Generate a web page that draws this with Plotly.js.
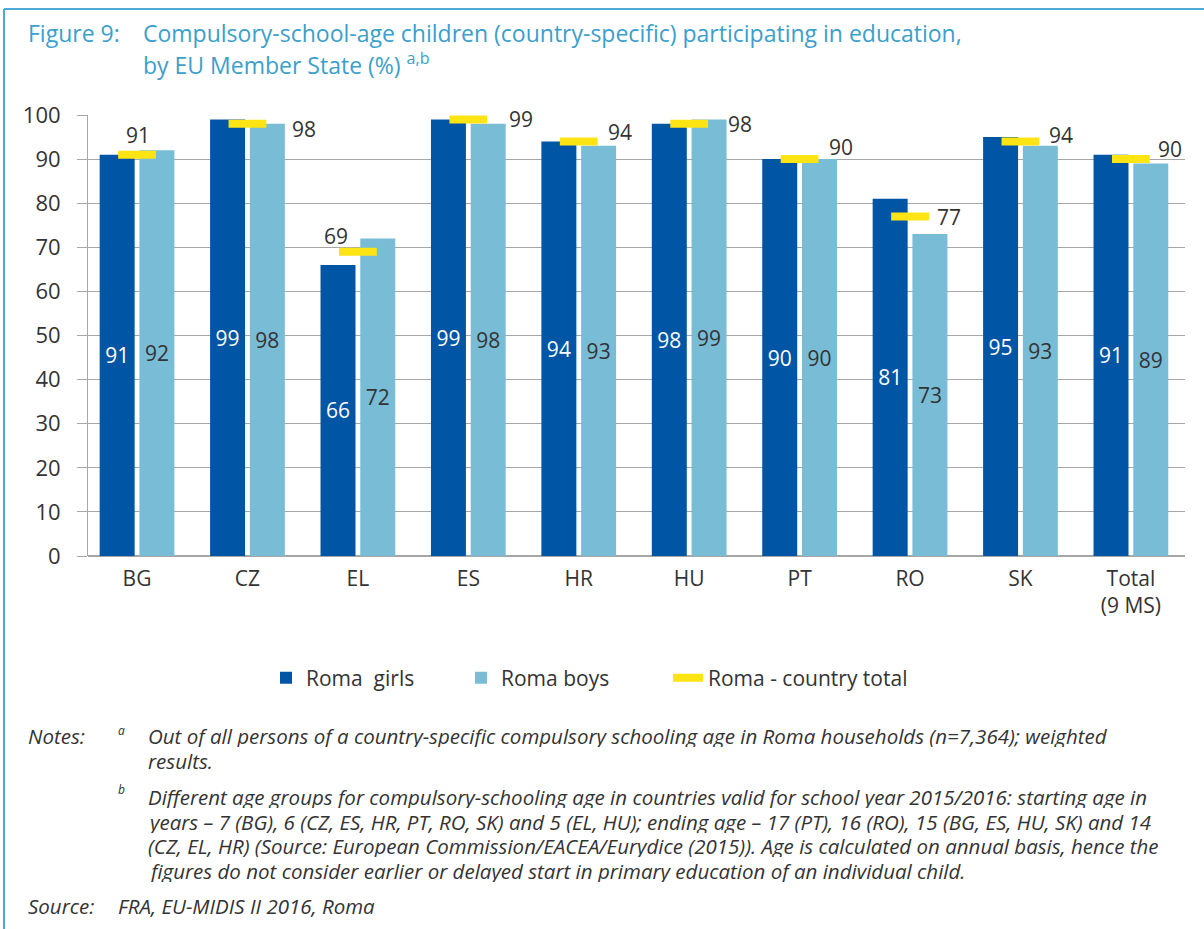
<!DOCTYPE html>
<html>
<head>
<meta charset="utf-8">
<script src="https://cdn.plot.ly/plotly-3.0.1.min.js"></script>
<style>
  html, body { margin: 0; padding: 0; background: #fff; }
  #chart { width: 1204px; height: 929px; }
</style>
</head>
<body>
<div id="chart"></div>
<script>
// Data
const countries = ['BG', 'CZ', 'EL', 'ES', 'HR', 'HU', 'PT', 'RO', 'SK', 'Total<br>(9 MS)'];
const girls = [91, 99, 66, 99, 94, 98, 90, 81, 95, 91];
const boys = [92, 98, 72, 98, 93, 99, 90, 73, 93, 89];
const countryTotal = [91, 98, 69, 99, 94, 98, 90, 77, 94, 90];

// where the "country total" labels sit relative to the yellow mark (px)
const totalLabelShift = [
  [1, 20], [57, -5], [-22, 16], [53, 0], [41, 9],
  [51, 0], [41, 12], [39, -1], [41, 6], [39, 10],
];

const noteA = [
  'Out of all persons of a country-specific compulsory schooling age in Roma households (n=7,364); weighted',
  'results.',
];
const noteB = [
  'Different age groups for compulsory-schooling age in countries valid for school year 2015/2016: starting age in',
  'years \u2013 7 (BG), 6 (CZ, ES, HR, PT, RO, SK) and 5 (EL, HU); ending age \u2013 17 (PT), 16 (RO), 15 (BG, ES, HU, SK) and 14',
  '(CZ, EL, HR) (Source: European Commission/EACEA/Eurydice (2015)). Age is calculated on annual basis, hence the',
  'figures do not consider earlier or delayed start in primary education of an individual child.',
];

const COLORS = {
  girls: '#0055a4',
  boys: '#78bcd6',
  total: '#ffe414',
  grid: '#a6a6a6',
  frame: '#4daad6',
  title: '#3a9fcb',
  text: '#333333',
};

const W = 1204, H = 929;
const M = { l: 88, r: 19, t: 115, b: 373 };
const plotW = W - M.l - M.r;
const plotH = H - M.t - M.b;
// pixel -> paper helpers for the surrounding text / frame
const px = x => (x - M.l) / plotW;
const py = y => (H - M.b - y) / plotH;

const xs = countries.map((_, i) => i);
const labelFont = { family: 'Open Sans, sans-serif', size: 21, color: COLORS.text };

const traces = [
  {
    type: 'bar', name: 'Roma  girls', x: xs, y: girls,
    marker: { color: COLORS.girls },
    text: girls.map(String), textposition: 'inside', insidetextanchor: 'middle',
    textangle: 0, constraintext: 'none',
    textfont: Object.assign({}, labelFont, { color: '#ffffff' }),
    hoverinfo: 'skip',
  },
  {
    type: 'bar', name: 'Roma boys', x: xs, y: boys,
    marker: { color: COLORS.boys },
    text: boys.map(String), textposition: 'inside', insidetextanchor: 'middle',
    textangle: 0, constraintext: 'none',
    textfont: labelFont,
    hoverinfo: 'skip',
  },
  {
    type: 'scatter', mode: 'markers', name: 'Roma - country total', x: xs, y: countryTotal,
    marker: { symbol: 'line-ew', size: 27, line: { color: COLORS.total, width: 8 } },
    showlegend: false, cliponaxis: false, hoverinfo: 'skip',
  },
  // legend entry for the yellow marks
  {
    type: 'scatter', mode: 'lines', name: 'Roma - country total', x: [null], y: [null],
    line: { color: COLORS.total, width: 8 }, hoverinfo: 'skip', legend: 'legend2',
  },
];

const annotations = countryTotal.map((v, i) => ({
  x: i, y: v, xref: 'x', yref: 'y', text: String(v), showarrow: false,
  xanchor: 'center', yanchor: 'middle',
  xshift: totalLabelShift[i][0], yshift: totalLabelShift[i][1],
  font: labelFont,
}));

function paperText(x, y, text, font, h) {
  const a = {
    xref: 'paper', yref: 'paper', x: px(x), y: py(y), text: text,
    showarrow: false, xanchor: 'left', yanchor: 'middle', align: 'left', font: font,
  };
  if (h) { a.height = h; a.borderpad = 0; a.valign = 'middle'; }
  return a;
}

const titleFont = { family: 'Open Sans, sans-serif', size: 23, color: COLORS.title };
const noteFont = { family: 'Open Sans, sans-serif', size: 20.5, color: COLORS.text, style: 'italic' };
const supFont = { family: 'Open Sans, sans-serif', size: 12, color: COLORS.text, style: 'italic' };
const noteLine = 24.6;

annotations.push(
  paperText(26, 33, 'Figure 9:', titleFont),
  paperText(141, 33, 'Compulsory-school-age children (country-specific) participating in education,', titleFont),
  paperText(141, 64, 'by EU Member State (%) <sup>a,b</sup>', titleFont),
  paperText(27, 736, 'Notes:', noteFont, 22),
  paperText(117, 730, 'a', supFont, 14),
  paperText(117, 789, 'b', supFont, 14),
  paperText(27, 906, 'Source:', noteFont, 22),
  paperText(117, 906, 'FRA, EU-MIDIS II 2016, Roma', noteFont, 22)
);
noteA.forEach((t, k) => annotations.push(paperText(147, 736 + k * noteLine, t, noteFont, 22)));
noteB.forEach((t, k) => annotations.push(paperText(147, 797 + k * noteLine, t, noteFont, 22)));

const shapes = [
  { type: 'line', xref: 'paper', yref: 'paper', x0: px(4), x1: px(4), y0: py(9), y1: py(H),
    line: { color: COLORS.frame, width: 2 } },
  { type: 'line', xref: 'paper', yref: 'paper', x0: px(4), x1: px(W), y0: py(9), y1: py(9),
    line: { color: COLORS.frame, width: 2 } },
];

const legendBase = {
  orientation: 'h', xanchor: 'left', yanchor: 'middle', y: py(678),
  font: labelFont, traceorder: 'normal', bgcolor: 'rgba(0,0,0,0)',
};

const layout = {
  width: W, height: H,
  margin: M,
  paper_bgcolor: '#ffffff', plot_bgcolor: '#ffffff',
  font: labelFont,
  barmode: 'group', bargap: 0.28, bargroupgap: 0.12,
  showlegend: true,
  legend: Object.assign({}, legendBase, { x: px(266), entrywidth: 150, entrywidthmode: 'pixels' }),
  legend2: Object.assign({}, legendBase, { x: px(668) }),
  xaxis: {
    range: [-0.444, 9.49], tickvals: xs, ticktext: countries,
    showgrid: false, zeroline: false, showline: false, ticks: '',
    tickfont: labelFont, ticklabelstandoff: 8,
    fixedrange: true,
  },
  yaxis: {
    range: [0, 100], dtick: 10, showgrid: true, gridcolor: COLORS.grid, gridwidth: 1,
    zeroline: true, zerolinecolor: COLORS.grid, zerolinewidth: 1.5,
    showline: true, linecolor: COLORS.grid, linewidth: 1,
    ticks: 'outside', ticklen: 10, tickcolor: COLORS.grid,
    tickfont: Object.assign({}, labelFont, { size: 22 }),
    ticklabelstandoff: 12, fixedrange: true,
  },
  annotations: annotations,
  shapes: shapes,
};

Plotly.newPlot('chart', traces, layout, { displayModeBar: false, staticPlot: true });
</script>
</body>
</html>
